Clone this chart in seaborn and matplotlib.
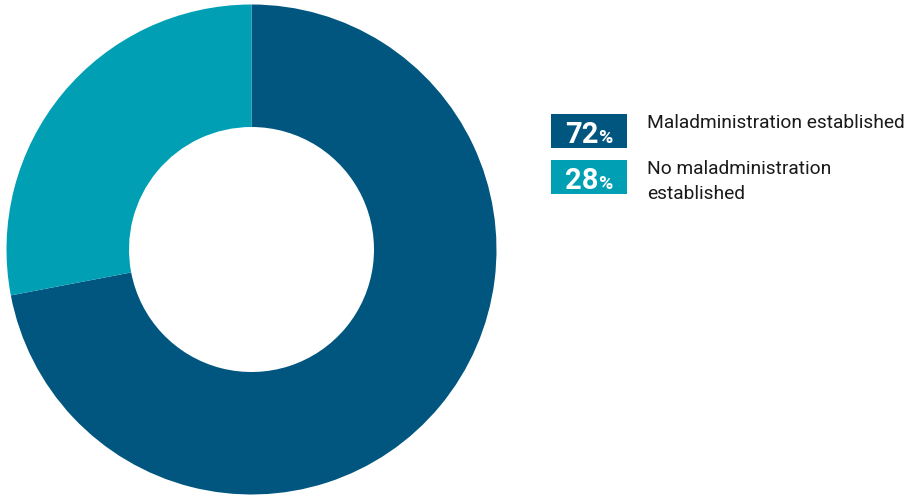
import matplotlib
matplotlib.use("Agg")
import matplotlib.pyplot as plt
import seaborn as sns
from matplotlib.patches import Rectangle

# Outcome shares (percent)
categories = ["Maladministration established", "No maladministration\nestablished"]
shares = [72, 28]
colors = ["#00567f", "#009fb4"]

sns.set_theme(style="white")
plt.rcParams["font.family"] = ["Roboto", "DejaVu Sans"]

W, H = 915, 497
fig = plt.figure(figsize=(W / 100, H / 100), dpi=100)
fig.patch.set_facecolor("white")

# Donut: centre (251.5, 249.5) px from top-left, outer radius 245 px
cx, cy, r = 251.5, 249.5, 245
ax = fig.add_axes([(cx - r) / W, (H - cy - r) / H, 2 * r / W, 2 * r / H])
ax.pie(shares, colors=colors, startangle=90, counterclock=False,
       radius=1.0, wedgeprops=dict(width=0.5, edgecolor="none"))
ax.set_xlim(-1, 1)
ax.set_ylim(-1, 1)
ax.set_aspect("equal")
ax.axis("off")

renderer = fig.canvas.get_renderer()

# Legend with value boxes
box_x0, box_w, box_h = 551, 76, 34
box_tops = [114, 160]
for top, val, label, col in zip(box_tops, shares, categories, colors):
    fig.patches.append(Rectangle((box_x0 / W, (H - top - box_h) / H), box_w / W, box_h / H,
                                 transform=fig.transFigure, facecolor=col, edgecolor="none"))
    base_y = (H - top - 29) / H
    num = fig.text(0, base_y, f"{val:.0f}", color="white", fontsize=21,
                   fontweight="bold", ha="left", va="baseline")
    pct = fig.text(0, base_y, "%", color="white", fontsize=14,
                   fontweight="bold", ha="left", va="baseline")
    wn = num.get_window_extent(renderer).width
    wp = pct.get_window_extent(renderer).width
    gap = 0
    x0 = box_x0 + (box_w - (wn + gap + wp)) / 2
    num.set_x(x0 / W)
    pct.set_x((x0 + wn + gap) / W)
    fig.text(647 / W, (H - top) / H, label, color="#1a1a1a", fontsize=13.8,
             ha="left", va="top", linespacing=1.5)

fig.savefig("out.png", dpi=100, facecolor="white")
